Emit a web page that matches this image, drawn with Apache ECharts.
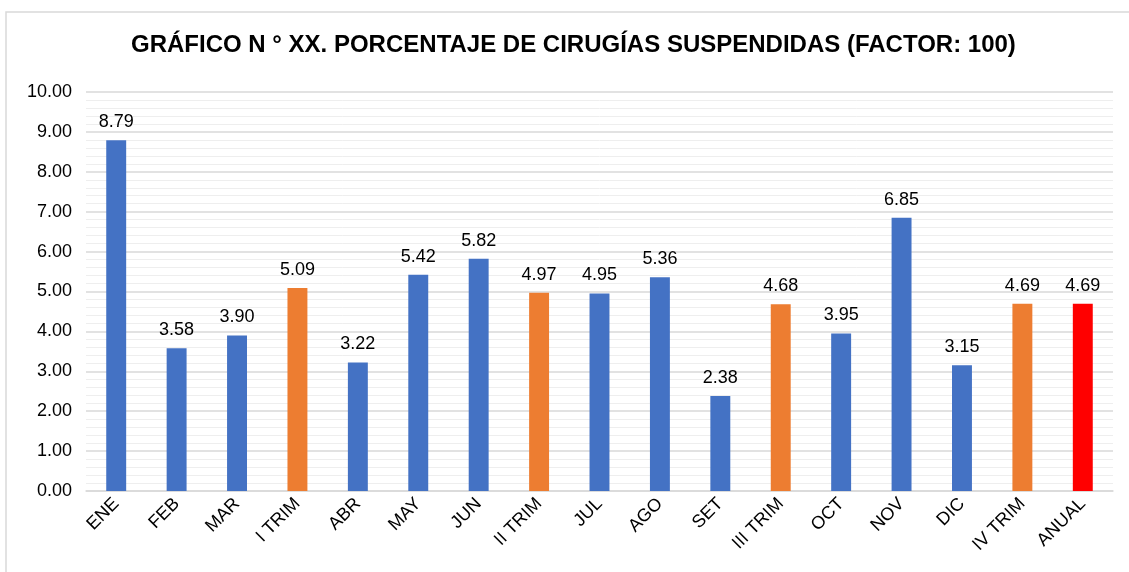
<!DOCTYPE html>
<html><head><meta charset="utf-8">
<script src="https://cdn.jsdelivr.net/npm/echarts@6/dist/echarts.min.js"></script>
<style>html,body{margin:0;padding:0;background:#fff}#c{width:1129px;height:572px}</style>
</head><body><div id="c"></div>
<script>
const categories = ['ENE','FEB','MAR','I TRIM','ABR','MAY','JUN','II TRIM','JUL','AGO','SET','III TRIM','OCT','NOV','DIC','IV TRIM','ANUAL'];
const values = [8.79,3.58,3.90,5.09,3.22,5.42,5.82,4.97,4.95,5.36,2.38,4.68,3.95,6.85,3.15,4.69,4.69];
const kinds = ['m','m','m','t','m','m','m','t','m','m','m','t','m','m','m','t','a'];
const colorByKind = {m:'#4472C4', t:'#ED7D31', a:'#FF0000'};
const FONT = '"Liberation Sans", Arial, sans-serif';
const chart = echarts.init(document.getElementById('c'));
chart.setOption({
  animation:false,
  backgroundColor:'#fff',
  graphic:[{type:'rect',shape:{x:6,y:12,width:1200,height:700},style:{fill:'none',stroke:'#d9d9d9',lineWidth:1.5},silent:true}],
  title:{text:'GRÁFICO N ° XX. PORCENTAJE DE CIRUGÍAS SUSPENDIDAS (FACTOR: 100)',left:131,top:33,padding:0,
    textStyle:{fontFamily:FONT,fontWeight:'bold',fontSize:24,color:'#000'}},
  grid:{left:86,right:16,top:92,bottom:81,containLabel:false},
  xAxis:{type:'category',data:categories,
    axisLine:{lineStyle:{color:'#d9d9d9',width:1.5}},axisTick:{show:false},
    axisLabel:{rotate:45,fontFamily:FONT,fontSize:18,color:'#000',margin:10,interval:0}},
  yAxis:{type:'value',min:0,max:10,interval:1,
    axisLine:{show:false},axisTick:{show:false},
    minorTick:{show:false,splitNumber:5},
    minorSplitLine:{show:true,lineStyle:{color:'#eeeeee',width:1}},
    splitLine:{lineStyle:{color:'#d9d9d9',width:1.5}},
    axisLabel:{formatter:v=>v.toFixed(2),fontFamily:FONT,fontSize:18,color:'#000',margin:14}},
  series:[{type:'bar',barWidth:'33%',
    data:values.map((v,i)=>({value:v,itemStyle:{color:colorByKind[kinds[i]]}})),
    label:{show:true,position:'top',distance:9,formatter:p=>p.value.toFixed(2),fontFamily:FONT,fontSize:18,color:'#000'}}]
});
</script></body></html>
